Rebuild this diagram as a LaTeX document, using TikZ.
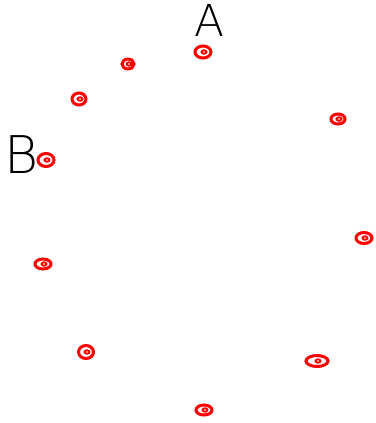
\documentclass[tikz,border=0pt]{standalone}
\usepackage{fontspec}
\newfontfamily\thinfont{DejaVu Sans ExtraLight}
\usetikzlibrary{shapes.geometric}
\tikzset{
  dot/.style={ellipse, draw=red, line width=3pt, inner sep=0pt,
    path picture={\draw[red, line width=2pt] ([xshift=1pt]path picture bounding box.center) ellipse (2.4pt and 1.7pt);}},
  letter/.style={inner sep=0pt, font=\thinfont\fontsize{44}{44}\selectfont}
}
\begin{document}
\begin{tikzpicture}[x=1pt,y=-1pt]
\useasboundingbox[fill=white] (0,0) rectangle (375,423);
\node[letter] (A) at (210,20) {A};
\node[letter, font=\thinfont\fontsize{52}{52}\selectfont] (B) at (22,155) {B};
\node[dot, minimum width=16pt, minimum height=12pt] (p1) at (203,52) {};
\node[dot, minimum width=12pt, minimum height=10pt] (p2) at (128,64) {};
\node[dot, minimum width=14pt, minimum height=12pt] (p3) at (79,99) {};
\node[dot, minimum width=14pt, minimum height=10pt] (p4) at (338,119) {};
\node[dot, minimum width=16pt, minimum height=13pt] (p5) at (46,160) {};
\node[dot, minimum width=16pt, minimum height=11pt] (p6) at (364,238) {};
\node[dot, minimum width=16pt, minimum height=10pt] (p7) at (43,264) {};
\node[dot, minimum width=15pt, minimum height=13pt] (p8) at (86,352) {};
\node[dot, minimum width=22pt, minimum height=11pt] (p9) at (317,361) {};
\node[dot, minimum width=16pt, minimum height=10pt] (p10) at (204,410) {};
\end{tikzpicture}
\end{document}
